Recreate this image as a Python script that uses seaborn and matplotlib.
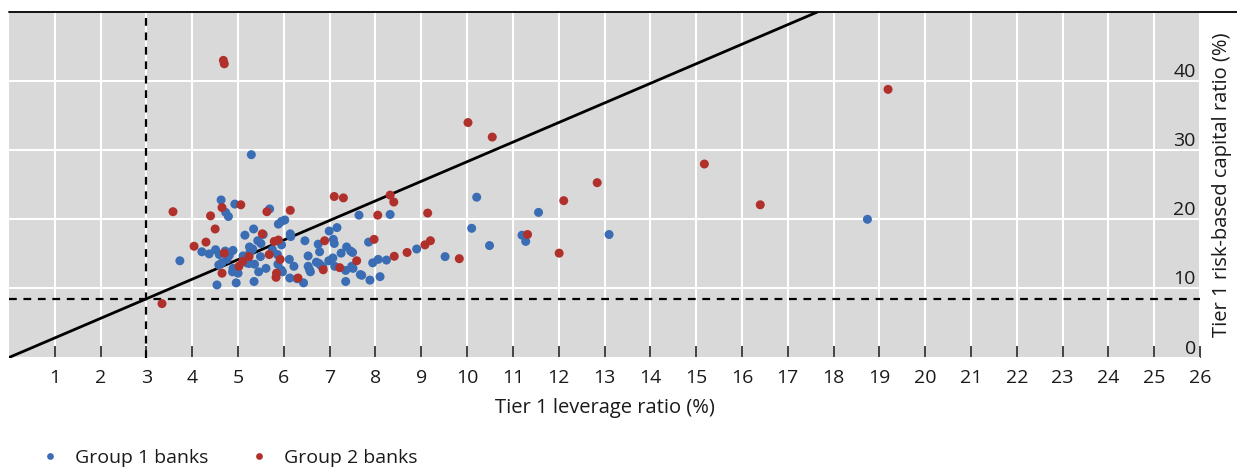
import matplotlib
matplotlib.use("Agg")
import matplotlib.pyplot as plt
from matplotlib.lines import Line2D
import numpy as np
import pandas as pd
import seaborn as sns

# Colours
BLUE = "#3a6db4"
RED = "#b0302c"
PANEL = "#d9d9d9"

# Regulatory minima (%)
MIN_LEVERAGE = 3.0
MIN_RISK_BASED = 8.5

# Group 1 banks: Tier 1 leverage ratio (%), Tier 1 risk-based capital ratio (%)
g1_lev = [3.73, 4.54, 5.29, 8.90, 9.52, 10.10, 10.21, 10.49, 11.20, 11.28, 11.56, 13.10, 18.74,
          7.64, 8.32, 7.85, 8.06, 8.24, 7.94, 7.70, 7.88, 8.10,
          4.21, 4.37, 4.51, 4.59, 4.72, 4.81, 4.76, 4.58, 4.65, 4.89, 4.63, 4.93, 4.73, 4.79,
          4.88, 4.96, 4.89, 5.00,
          5.15, 5.34, 5.55, 5.43, 5.50, 5.25, 5.32, 5.26, 5.11, 5.49, 5.19, 5.24, 5.36, 5.45,
          5.61, 5.35, 5.69, 5.88, 5.95, 6.02, 5.75, 5.86, 5.87, 5.94, 5.97, 5.95,
          6.14, 6.15, 6.12, 6.22, 6.13, 6.29, 6.43, 6.46, 6.53, 6.53, 6.56, 6.58, 6.75, 6.78,
          6.71, 6.77, 6.81, 6.85, 6.99, 7.16, 7.08, 7.10, 6.98, 7.07, 7.11, 7.25, 7.37, 7.46,
          7.50, 7.35, 7.35, 7.48, 7.51, 7.67]
g1_rwa = [14.0, 10.5, 29.35, 15.7, 14.6, 18.7, 23.2, 16.2, 17.7, 16.8, 21.0, 17.8, 20.0,
          20.6, 20.7, 16.7, 14.2, 14.1, 13.7, 11.9, 11.2, 11.7,
          15.3, 15.0, 15.6, 14.9, 15.4, 14.8, 14.2, 13.4, 13.7, 15.5, 22.8, 22.2, 21.0, 20.4,
          12.4, 10.8, 12.9, 12.2,
          17.7, 18.6, 17.8, 16.9, 16.5, 16.0, 15.7, 15.2, 14.7, 14.6, 13.7, 13.6, 13.5, 12.4,
          12.9, 11.0, 21.5, 19.3, 19.7, 19.9, 15.6, 14.9, 13.5, 12.7, 12.4, 16.3,
          17.9, 17.5, 14.2, 13.2, 11.5, 11.4, 10.8, 16.9, 14.7, 13.2, 12.7, 12.4, 16.4, 15.3,
          13.8, 13.6, 13.3, 13.1, 18.3, 18.8, 17.1, 16.5, 14.0, 14.4, 13.2, 15.1, 16.0, 15.4,
          15.2, 12.6, 11.0, 13.2, 12.9, 12.0]

# Group 2 banks
g2_lev = [3.34, 3.58, 4.04, 4.30, 4.40, 4.50, 4.65, 4.65, 4.68, 4.70, 4.70, 5.06, 5.02,
          5.10, 5.24, 5.53, 5.63, 5.68, 5.79, 5.88, 5.92, 5.83, 5.84, 6.14, 6.31, 6.89,
          6.86, 7.10, 7.30, 7.22, 7.59, 7.97, 8.05, 8.32, 8.40, 8.41, 8.69, 9.08, 9.20,
          9.14, 9.83, 10.02, 10.55, 11.32, 12.01, 12.11, 12.84, 15.18, 16.40, 19.19]
g2_rwa = [7.8, 21.1, 16.1, 16.7, 20.5, 18.6, 21.7, 12.2, 43.0, 42.5, 15.1, 22.1, 13.2,
          13.9, 14.6, 17.9, 21.1, 14.9, 16.8, 17.0, 14.2, 11.6, 12.2, 21.3, 11.5, 16.9,
          12.7, 23.3, 23.1, 13.0, 14.0, 17.1, 20.6, 23.5, 22.5, 14.65, 15.2, 16.3, 16.9,
          20.9, 14.3, 34.0, 31.9, 17.8, 15.1, 22.7, 25.3, 28.0, 22.1, 38.8]

x_ticks = list(range(1, 27))
y_ticks = [0, 10, 20, 30, 40]

df = pd.DataFrame({
    "lev": g1_lev + g2_lev,
    "rwa": g1_rwa + g2_rwa,
    "group": ["Group 1 banks"] * len(g1_lev) + ["Group 2 banks"] * len(g2_lev),
})

sns.set_style("whitegrid", {"axes.facecolor": PANEL, "grid.color": "white"})
plt.rcParams["font.family"] = ["Open Sans", "DejaVu Sans"]
plt.rcParams["font.size"] = 14
plt.rcParams["text.color"] = "#1a1a1a"

fig = plt.figure(figsize=(12.37, 4.68), dpi=100)
ax = fig.add_axes([9 / 1237, 110.5 / 468, 1191 / 1237, 345.5 / 468])

ax.set_xlim(0, 26)
ax.set_ylim(0, 50)
ax.grid(True, color="white", linewidth=1.5, zorder=0)
ax.set_axisbelow(True)

# Minimum requirement lines
ax.axvline(MIN_LEVERAGE, color="black", lw=1.6, ls=(0, (3.5, 3)), zorder=2)
ax.axhline(MIN_RISK_BASED, color="black", lw=1.6, ls=(0, (3.5, 3)), zorder=2)
ax.axline((0, 0), slope=MIN_RISK_BASED / MIN_LEVERAGE, color="black", lw=2, zorder=2)

sns.scatterplot(data=df, x="lev", y="rwa", hue="group", ax=ax,
                palette={"Group 1 banks": BLUE, "Group 2 banks": RED},
                s=42, linewidth=0, zorder=3)

for s in ax.spines.values():
    s.set_visible(False)

# x axis: inward ticks at bottom
ax.set_xticks(x_ticks)
ax.tick_params(axis="x", direction="in", length=9, width=1.2, color="#222222",
               pad=8, labelsize=14, labelcolor="#1a1a1a", bottom=True)
ax.set_xlabel("Tier 1 leverage ratio (%)", fontsize=14.5, labelpad=8, color="#1a1a1a")

# y axis: labels inside on the right, sitting on the gridlines
ax.yaxis.tick_right()
ax.set_yticks(y_ticks)
ax.tick_params(axis="y", length=0, pad=-3, labelsize=14, labelcolor="#1a1a1a")
for lab in ax.get_yticklabels():
    lab.set_ha("right")
    lab.set_va("bottom")
ax.yaxis.set_label_position("right")
ax.set_ylabel("Tier 1 risk-based capital ratio (%)", fontsize=14.5, labelpad=9, color="#1a1a1a")

# top rule across the figure
fig.add_artist(Line2D([9 / 1237, 1], [456 / 468, 456 / 468], color="black", lw=1.3,
                      transform=fig.transFigure))

sns.move_legend(ax, "center left", bbox_to_anchor=(21.3 / 1191, -100.5 / 345.5), ncol=2,
                frameon=False, title=None, handlelength=1.0, handletextpad=0.8,
                columnspacing=2.1, borderpad=0, markerscale=0.75, fontsize=14)

fig.savefig("out.png", dpi=100)
